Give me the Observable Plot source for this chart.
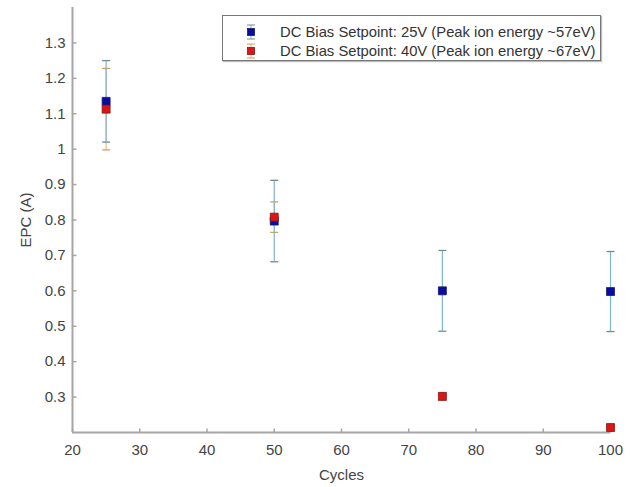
<!DOCTYPE html>
<html>
<head>
<meta charset="utf-8">
<script src="https://cdn.jsdelivr.net/npm/d3@7"></script>
<script src="https://cdn.jsdelivr.net/npm/@observablehq/plot@0.6"></script>
<style>
  html, body { margin: 0; padding: 0; background: #fff; }
  #wrap { position: relative; width: 639px; height: 487px; font-family: "Liberation Sans", Arial, sans-serif; }
  #legend { position: absolute; left: 222px; top: 15px; width: 377px; height: 44px; border: 1px solid #777;
    box-shadow: 1px 1px 1px #bbb; background: #fff; font-size: 14.8px; color: #333; }
  .row { position: absolute; left: 0; height: 18px; display: flex; align-items: center; white-space: nowrap; }
  .row svg { margin-left: 22px; margin-right: 23px; }
</style>
</head>
<body>
<div id="wrap"></div>
<script>
const cycles = [25, 50, 75, 100];
const epc25 = [1.135, 0.797, 0.600, 0.598];
const err25 = [0.115, 0.115, 0.114, 0.113];
const epc40 = [1.113, 0.808, 0.302, 0.214];
const err40 = [0.115, 0.043, 0.010, 0.008];
const seriesNames = ["DC Bias Setpoint: 25V (Peak ion energy ~57eV)", "DC Bias Setpoint: 40V (Peak ion energy ~67eV)"];
const xTicks = [20, 30, 40, 50, 60, 70, 80, 90, 100];
const yTicks = [0.3, 0.4, 0.5, 0.6, 0.7, 0.8, 0.9, 1.0, 1.1, 1.2, 1.3];

const s25 = cycles.map((c, i) => ({x: c, y: epc25[i], lo: epc25[i] - err25[i], hi: epc25[i] + err25[i]}));
const s40 = cycles.map((c, i) => ({x: c, y: epc40[i], lo: epc40[i] - err40[i], hi: epc40[i] + err40[i]}));

const capSym = {draw(ctx) { ctx.moveTo(-4, 0); ctx.lineTo(4, 0); }};
const yTickSym = {draw(ctx) { ctx.moveTo(0, 0); ctx.lineTo(4, 0); }};
const xTickSym = {draw(ctx) { ctx.moveTo(0, 0); ctx.lineTo(0, -4); }};

const axisColor = "#a6a6a6";
const c25bar = "#7fb6cc", c25cap = "#6a8d9a";
const c40bar = "#f0b070", c40cap = "#e09a5a";

const chart = Plot.plot({
  width: 639,
  height: 487,
  marginLeft: 72,
  marginRight: 29,
  marginTop: 7,
  marginBottom: 55,
  style: {fontFamily: "Liberation Sans, Arial, sans-serif", fontSize: "15px", color: "#444", background: "#fff"},
  x: {domain: [20, 100]},
  y: {domain: [0.2, 1.4]},
  marks: [
    Plot.axisX({ticks: xTicks, tickSize: 0, tickPadding: 12, tickFormat: d3.format("~g"), fontSize: 15, fill: "#444",
      label: "Cycles", labelAnchor: "center", labelArrow: "none", labelOffset: 47}),
    Plot.axisY({ticks: yTicks, tickSize: 0, tickPadding: 7, tickFormat: d3.format("~g"), fontSize: 15, fill: "#444",
      label: "EPC (A)", labelAnchor: "center", labelArrow: "none", labelOffset: 52}),
    Plot.dot(yTicks, {x: 20, y: d => d, symbol: yTickSym, stroke: axisColor, strokeWidth: 1.5, fill: "none"}),
    Plot.dot(xTicks, {x: d => d, y: 0.2, symbol: xTickSym, stroke: axisColor, strokeWidth: 1.5, fill: "none"}),
    Plot.ruleX([20], {y1: 0.2, y2: 1.4, stroke: axisColor, strokeWidth: 2}),
    Plot.ruleY([0.2], {x1: 20, x2: 100, stroke: axisColor, strokeWidth: 2}),
    // 40V error bars
    Plot.ruleX(s40, {x: "x", y1: "lo", y2: "hi", stroke: c40bar, strokeWidth: 1}),
    Plot.dot(s40, {x: "x", y: "lo", symbol: capSym, stroke: c40cap, strokeWidth: 1.3, fill: "none"}),
    Plot.dot(s40, {x: "x", y: "hi", symbol: capSym, stroke: c40cap, strokeWidth: 1.3, fill: "none"}),
    // 25V error bars
    Plot.ruleX(s25, {x: "x", y1: "lo", y2: "hi", stroke: c25bar, strokeWidth: 1.2}),
    Plot.dot(s25, {x: "x", y: "lo", symbol: capSym, stroke: c25cap, strokeWidth: 1.3, fill: "none"}),
    Plot.dot(s25, {x: "x", y: "hi", symbol: capSym, stroke: c25cap, strokeWidth: 1.3, fill: "none"}),
    // markers
    Plot.dot(s25, {x: "x", y: "y", symbol: "square", r: 4.5, fill: "#0a0aa8", stroke: "#1a1a6a", strokeWidth: 0.8}),
    Plot.dot(s40, {x: "x", y: "y", symbol: "square", r: 4.5, fill: "#dd1515", stroke: "#7a1a1a", strokeWidth: 0.8})
  ]
});

const wrap = document.getElementById("wrap");
wrap.appendChild(chart);

const legend = document.createElement("div");
legend.id = "legend";
const legendColors = [
  {fill: "#0a0aa8", stroke: "#1a1a6a", bar: c25bar, cap: c25cap},
  {fill: "#dd1515", stroke: "#7a1a1a", bar: c40bar, cap: c40cap}
];
seriesNames.forEach((name, i) => {
  const c = legendColors[i];
  const row = document.createElement("div");
  row.className = "row";
  row.style.top = (7 + i * 19) + "px";
  row.innerHTML = `<svg width="12" height="18">
      <line x1="6" x2="6" y1="2" y2="16" stroke="${c.bar}" stroke-width="1"/>
      <line x1="2" x2="10" y1="2" y2="2" stroke="${c.cap}" stroke-width="1"/>
      <line x1="2" x2="10" y1="16" y2="16" stroke="${c.cap}" stroke-width="1"/>
      <rect x="2.5" y="5.5" width="7" height="7" fill="${c.fill}" stroke="${c.stroke}" stroke-width="0.8"/>
    </svg><span>${name}</span>`;
  legend.appendChild(row);
});
wrap.appendChild(legend);
</script>
</body>
</html>
